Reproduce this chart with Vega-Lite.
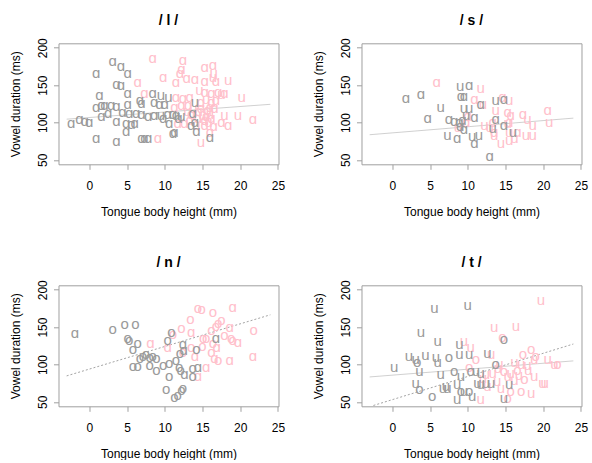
{
  "$schema": "https://vega.github.io/schema/vega-lite/v6.json",
  "padding": {"left": 8.5, "top": 12.3, "right": 0, "bottom": 0},
  "background": "white",
  "datasets": {
    "pts": [
      {"p":"l","c":"p","v":"ɑ","x":8.4,"y":185.7},{"p":"l","c":"p","v":"ɑ","x":12.4,"y":183.5},{"p":"l","c":"p","v":"ɑ","x":15.3,"y":173.7},{"p":"l","c":"p","v":"ɑ","x":16.4,"y":176.8},{"p":"l","c":"p","v":"ɑ","x":12.2,"y":171},{"p":"l","c":"p","v":"ɑ","x":12.0,"y":165.6},{"p":"l","c":"p","v":"ɑ","x":9.8,"y":161.2},{"p":"l","c":"p","v":"ɑ","x":11.5,"y":154.5},{"p":"l","c":"p","v":"ɑ","x":12.9,"y":158.9},{"p":"l","c":"p","v":"ɑ","x":14.0,"y":157.6},{"p":"l","c":"p","v":"ɑ","x":15.3,"y":155.8},{"p":"l","c":"p","v":"u","x":16.4,"y":161.2},{"p":"l","c":"p","v":"ɑ","x":16.8,"y":155.8},{"p":"l","c":"p","v":"u","x":18.4,"y":156.7},{"p":"l","c":"p","v":"ɑ","x":6.4,"y":154.5},{"p":"l","c":"p","v":"ɑ","x":7.3,"y":139.7},{"p":"l","c":"p","v":"ɑ","x":11.5,"y":134.4},{"p":"l","c":"p","v":"ɑ","x":12.4,"y":132.1},{"p":"l","c":"p","v":"ɑ","x":13.3,"y":134.4},{"p":"l","c":"p","v":"u","x":14.6,"y":143.3},{"p":"l","c":"p","v":"ɑ","x":15.3,"y":141},{"p":"l","c":"p","v":"ɑ","x":16.2,"y":138.8},{"p":"l","c":"p","v":"ɑ","x":17.1,"y":141},{"p":"l","c":"p","v":"ɑ","x":17.9,"y":138.8},{"p":"l","c":"p","v":"u","x":20.2,"y":134.4},{"p":"l","c":"p","v":"ɑ","x":16.2,"y":127.7},{"p":"l","c":"p","v":"ɑ","x":16.0,"y":121},{"p":"l","c":"p","v":"ɑ","x":11.3,"y":121},{"p":"l","c":"p","v":"ɑ","x":12.2,"y":123.2},{"p":"l","c":"p","v":"ɑ","x":13.1,"y":123.2},{"p":"l","c":"p","v":"ɑ","x":14.8,"y":118.8},{"p":"l","c":"p","v":"ɑ","x":15.7,"y":116.5},{"p":"l","c":"p","v":"ɑ","x":16.6,"y":118.8},{"p":"l","c":"p","v":"u","x":17.9,"y":109.8},{"p":"l","c":"p","v":"u","x":19.7,"y":109.8},{"p":"l","c":"p","v":"ɑ","x":21.7,"y":104},{"p":"l","c":"p","v":"ɑ","x":11.7,"y":98.7},{"p":"l","c":"p","v":"ɑ","x":12.6,"y":98.7},{"p":"l","c":"p","v":"ɑ","x":13.3,"y":103.1},{"p":"l","c":"p","v":"ɑ","x":14.4,"y":105.4},{"p":"l","c":"p","v":"ɑ","x":15.3,"y":103.1},{"p":"l","c":"p","v":"ɑ","x":16.2,"y":105.4},{"p":"l","c":"p","v":"ɑ","x":17.5,"y":100.9},{"p":"l","c":"p","v":"ɑ","x":18.4,"y":96.4},{"p":"l","c":"p","v":"ɑ","x":9.1,"y":79.5},{"p":"l","c":"p","v":"u","x":14.8,"y":74.1},{"p":"l","c":"p","v":"ɑ","x":16.0,"y":87.5},{"p":"l","c":"p","v":"ɑ","x":15.3,"y":96.4},{"p":"l","c":"p","v":"u","x":16.5,"y":166},{"p":"l","c":"p","v":"u","x":15.0,"y":110},{"p":"l","c":"p","v":"ɑ","x":15.5,"y":108},{"p":"l","c":"p","v":"u","x":16.0,"y":112},{"p":"l","c":"p","v":"ɑ","x":14.5,"y":115},{"p":"l","c":"p","v":"u","x":13.8,"y":120},{"p":"l","c":"p","v":"u","x":15.8,"y":100},{"p":"l","c":"p","v":"ɑ","x":16.5,"y":95},{"p":"l","c":"p","v":"u","x":14.2,"y":97},{"p":"l","c":"p","v":"ɑ","x":13.5,"y":112},{"p":"l","c":"p","v":"ɑ","x":14.8,"y":128},{"p":"l","c":"p","v":"u","x":15.5,"y":132},{"p":"l","c":"p","v":"u","x":13.0,"y":116},{"p":"l","c":"p","v":"ɑ","x":16.8,"y":130},{"p":"l","c":"p","v":"u","x":17.5,"y":138},
      {"p":"l","c":"g","v":"ɑ","x":3.1,"y":182.6},{"p":"l","c":"g","v":"ɑ","x":4.2,"y":175.4},{"p":"l","c":"g","v":"ɑ","x":5.1,"y":166.5},{"p":"l","c":"g","v":"ɑ","x":0.9,"y":166.5},{"p":"l","c":"g","v":"ɑ","x":3.6,"y":151.3},{"p":"l","c":"g","v":"ɑ","x":4.2,"y":150},{"p":"l","c":"g","v":"ɑ","x":5.1,"y":138.8},{"p":"l","c":"g","v":"ɑ","x":1.35,"y":136.6},{"p":"l","c":"g","v":"ɑ","x":0.9,"y":121},{"p":"l","c":"g","v":"ɑ","x":1.6,"y":123.2},{"p":"l","c":"g","v":"ɑ","x":2.0,"y":123.2},{"p":"l","c":"g","v":"ɑ","x":2.9,"y":123.2},{"p":"l","c":"g","v":"ɑ","x":3.6,"y":122.3},{"p":"l","c":"g","v":"ɑ","x":5.1,"y":124.1},{"p":"l","c":"g","v":"ɑ","x":6.7,"y":129.9},{"p":"l","c":"g","v":"ɑ","x":8.4,"y":138.8},{"p":"l","c":"g","v":"u","x":9.5,"y":136.6},{"p":"l","c":"g","v":"ɑ","x":8.6,"y":127.7},{"p":"l","c":"g","v":"ɑ","x":9.3,"y":125.4},{"p":"l","c":"g","v":"ɑ","x":10.0,"y":124.6},{"p":"l","c":"g","v":"ɑ","x":6.9,"y":126.3},{"p":"l","c":"g","v":"ɑ","x":-2.4,"y":98.7},{"p":"l","c":"g","v":"ɑ","x":-1.3,"y":104},{"p":"l","c":"g","v":"ɑ","x":-0.6,"y":102.2},{"p":"l","c":"g","v":"ɑ","x":0,"y":100.9},{"p":"l","c":"g","v":"ɑ","x":1.6,"y":108.5},{"p":"l","c":"g","v":"ɑ","x":2.5,"y":112.1},{"p":"l","c":"g","v":"ɑ","x":4.4,"y":114.3},{"p":"l","c":"g","v":"ɑ","x":5.3,"y":112.1},{"p":"l","c":"g","v":"ɑ","x":6.2,"y":112.1},{"p":"l","c":"g","v":"ɑ","x":6.9,"y":111.2},{"p":"l","c":"g","v":"ɑ","x":7.8,"y":108.5},{"p":"l","c":"g","v":"ɑ","x":8.6,"y":109.8},{"p":"l","c":"g","v":"u","x":9.5,"y":109.8},{"p":"l","c":"g","v":"ɑ","x":10.4,"y":110.7},{"p":"l","c":"g","v":"ɑ","x":11.1,"y":111.2},{"p":"l","c":"g","v":"ɑ","x":11.5,"y":109.8},{"p":"l","c":"g","v":"ɑ","x":3.6,"y":102.2},{"p":"l","c":"g","v":"ɑ","x":4.9,"y":98.7},{"p":"l","c":"g","v":"ɑ","x":5.6,"y":97.8},{"p":"l","c":"g","v":"ɑ","x":6.0,"y":98.7},{"p":"l","c":"g","v":"ɑ","x":4.9,"y":88.8},{"p":"l","c":"g","v":"ɑ","x":10.6,"y":98.7},{"p":"l","c":"g","v":"ɑ","x":11.3,"y":87.5},{"p":"l","c":"g","v":"ɑ","x":11.1,"y":85.3},{"p":"l","c":"g","v":"ɑ","x":6.9,"y":78.6},{"p":"l","c":"g","v":"ɑ","x":7.3,"y":78.6},{"p":"l","c":"g","v":"ɑ","x":7.8,"y":78.6},{"p":"l","c":"g","v":"ɑ","x":0.9,"y":78.6},{"p":"l","c":"g","v":"ɑ","x":3.6,"y":75.4},{"p":"l","c":"g","v":"u","x":14.0,"y":127.7},{"p":"l","c":"g","v":"ɑ","x":13.7,"y":112.1},{"p":"l","c":"g","v":"ɑ","x":14.0,"y":100.9},{"p":"l","c":"g","v":"ɑ","x":13.5,"y":96.4},{"p":"l","c":"g","v":"ɑ","x":14.2,"y":88.8},{"p":"l","c":"g","v":"ɑ","x":16.0,"y":80.8},{"p":"l","c":"g","v":"u","x":10.5,"y":134.6},{"p":"l","c":"g","v":"u","x":12.2,"y":108},{"p":"l","c":"g","v":"ɑ","x":9.8,"y":106},{"p":"l","c":"g","v":"ɑ","x":11.8,"y":106},

      {"p":"s","c":"p","v":"ɑ","x":5.9,"y":154.5},{"p":"s","c":"p","v":"u","x":11.7,"y":145.5},{"p":"s","c":"p","v":"ɑ","x":10.9,"y":132},{"p":"s","c":"p","v":"u","x":12.0,"y":125.4},{"p":"s","c":"p","v":"ɑ","x":14.6,"y":134.4},{"p":"s","c":"p","v":"u","x":15.5,"y":130},{"p":"s","c":"p","v":"u","x":13.7,"y":116.5},{"p":"s","c":"p","v":"ɑ","x":15.3,"y":114},{"p":"s","c":"p","v":"ɑ","x":15.7,"y":110},{"p":"s","c":"p","v":"ɑ","x":17.3,"y":112},{"p":"s","c":"p","v":"u","x":17.9,"y":105},{"p":"s","c":"p","v":"u","x":18.6,"y":96},{"p":"s","c":"p","v":"ɑ","x":20.6,"y":116.5},{"p":"s","c":"p","v":"u","x":20.8,"y":101},{"p":"s","c":"p","v":"ɑ","x":10.0,"y":108.5},{"p":"s","c":"p","v":"ɑ","x":9.8,"y":101},{"p":"s","c":"p","v":"u","x":8.7,"y":94},{"p":"s","c":"p","v":"u","x":12.2,"y":96},{"p":"s","c":"p","v":"u","x":12.9,"y":94},{"p":"s","c":"p","v":"ɑ","x":13.3,"y":101},{"p":"s","c":"p","v":"ɑ","x":13.5,"y":87.5},{"p":"s","c":"p","v":"u","x":13.5,"y":83},{"p":"s","c":"p","v":"u","x":15.3,"y":98.7},{"p":"s","c":"p","v":"u","x":15.5,"y":87.5},{"p":"s","c":"p","v":"ɑ","x":16.6,"y":87.5},{"p":"s","c":"p","v":"u","x":17.7,"y":83},{"p":"s","c":"p","v":"u","x":18.6,"y":83},{"p":"s","c":"p","v":"u","x":14.4,"y":71.9},{"p":"s","c":"p","v":"u","x":15.5,"y":76},{"p":"s","c":"p","v":"u","x":16.2,"y":78.6},{"p":"s","c":"p","v":"ɑ","x":15.5,"y":101},
      {"p":"s","c":"g","v":"ɑ","x":1.8,"y":132.1},{"p":"s","c":"g","v":"ɑ","x":3.8,"y":137.5},{"p":"s","c":"g","v":"u","x":6.4,"y":121},{"p":"s","c":"g","v":"ɑ","x":4.7,"y":105.4},{"p":"s","c":"g","v":"u","x":9.0,"y":148.7},{"p":"s","c":"g","v":"ɑ","x":10.2,"y":150},{"p":"s","c":"g","v":"ɑ","x":9.1,"y":135.3},{"p":"s","c":"g","v":"ɑ","x":9.5,"y":135.3},{"p":"s","c":"g","v":"u","x":9.5,"y":119.6},{"p":"s","c":"g","v":"u","x":10.2,"y":119.6},{"p":"s","c":"g","v":"ɑ","x":7.5,"y":105},{"p":"s","c":"g","v":"ɑ","x":8.2,"y":102},{"p":"s","c":"g","v":"ɑ","x":8.9,"y":101},{"p":"s","c":"g","v":"ɑ","x":9.3,"y":103},{"p":"s","c":"g","v":"ɑ","x":10.9,"y":107.6},{"p":"s","c":"g","v":"ɑ","x":9.5,"y":90.6},{"p":"s","c":"g","v":"u","x":7.3,"y":83},{"p":"s","c":"g","v":"ɑ","x":8.6,"y":78.6},{"p":"s","c":"g","v":"u","x":10.6,"y":81.7},{"p":"s","c":"g","v":"ɑ","x":10.9,"y":71.9},{"p":"s","c":"g","v":"u","x":11.5,"y":83},{"p":"s","c":"g","v":"ɑ","x":11.7,"y":125.4},{"p":"s","c":"g","v":"u","x":13.7,"y":130},{"p":"s","c":"g","v":"ɑ","x":14.8,"y":132},{"p":"s","c":"g","v":"ɑ","x":13.7,"y":105},{"p":"s","c":"g","v":"ɑ","x":14.8,"y":96},{"p":"s","c":"g","v":"u","x":16.0,"y":87.5},{"p":"s","c":"g","v":"ɑ","x":12.9,"y":55},{"p":"s","c":"g","v":"u","x":13.3,"y":92},{"p":"s","c":"g","v":"u","x":9.8,"y":110},{"p":"s","c":"g","v":"ɑ","x":9.0,"y":95},

      {"p":"n","c":"p","v":"o","x":14.4,"y":175},{"p":"n","c":"p","v":"o","x":14.9,"y":174},{"p":"n","c":"p","v":"o","x":16.4,"y":170},{"p":"n","c":"p","v":"ɑ","x":19.0,"y":177},{"p":"n","c":"p","v":"o","x":13.4,"y":161},{"p":"n","c":"p","v":"o","x":17.5,"y":159},{"p":"n","c":"p","v":"o","x":17.1,"y":155},{"p":"n","c":"p","v":"o","x":16.8,"y":151},{"p":"n","c":"p","v":"o","x":12.2,"y":148.5},{"p":"n","c":"p","v":"o","x":11.1,"y":140.5},{"p":"n","c":"p","v":"ɑ","x":13.5,"y":144},{"p":"n","c":"p","v":"o","x":16.2,"y":146},{"p":"n","c":"p","v":"ɑ","x":18.6,"y":150.7},{"p":"n","c":"p","v":"o","x":21.8,"y":146},{"p":"n","c":"p","v":"o","x":15.1,"y":135},{"p":"n","c":"p","v":"o","x":15.5,"y":135},{"p":"n","c":"p","v":"o","x":16.4,"y":128.5},{"p":"n","c":"p","v":"o","x":17.9,"y":139.6},{"p":"n","c":"p","v":"o","x":18.8,"y":135},{"p":"n","c":"p","v":"o","x":19.0,"y":133},{"p":"n","c":"p","v":"ɑ","x":19.7,"y":130.7},{"p":"n","c":"p","v":"ɑ","x":10.4,"y":124},{"p":"n","c":"p","v":"o","x":13.5,"y":124},{"p":"n","c":"p","v":"ɑ","x":14.0,"y":110.7},{"p":"n","c":"p","v":"ɑ","x":15.5,"y":96},{"p":"n","c":"p","v":"o","x":16.2,"y":117},{"p":"n","c":"p","v":"ɑ","x":16.6,"y":108},{"p":"n","c":"p","v":"o","x":17.1,"y":106},{"p":"n","c":"p","v":"ɑ","x":14.4,"y":84},{"p":"n","c":"p","v":"ɑ","x":18.6,"y":106},{"p":"n","c":"p","v":"ɑ","x":21.7,"y":110.7},{"p":"n","c":"p","v":"o","x":12.4,"y":117},{"p":"n","c":"p","v":"ɑ","x":8.1,"y":129},{"p":"n","c":"p","v":"o","x":15.0,"y":125},{"p":"n","c":"p","v":"ɑ","x":16.9,"y":124},
      {"p":"n","c":"g","v":"ɑ","x":-1.9,"y":141.8},{"p":"n","c":"g","v":"o","x":3.1,"y":147.6},{"p":"n","c":"g","v":"o","x":4.7,"y":153.8},{"p":"n","c":"g","v":"o","x":6.1,"y":154.3},{"p":"n","c":"g","v":"o","x":5.1,"y":136},{"p":"n","c":"g","v":"o","x":5.3,"y":133},{"p":"n","c":"g","v":"o","x":6.4,"y":128.5},{"p":"n","c":"g","v":"o","x":5.8,"y":121},{"p":"n","c":"g","v":"o","x":7.1,"y":112},{"p":"n","c":"g","v":"o","x":7.5,"y":114},{"p":"n","c":"g","v":"o","x":6.7,"y":109},{"p":"n","c":"g","v":"o","x":8.0,"y":110},{"p":"n","c":"g","v":"o","x":8.4,"y":112},{"p":"n","c":"g","v":"o","x":8.9,"y":108},{"p":"n","c":"g","v":"o","x":5.8,"y":98},{"p":"n","c":"g","v":"o","x":6.4,"y":98},{"p":"n","c":"g","v":"o","x":8.0,"y":99.5},{"p":"n","c":"g","v":"o","x":8.9,"y":93},{"p":"n","c":"g","v":"o","x":9.8,"y":99.5},{"p":"n","c":"g","v":"o","x":10.6,"y":102},{"p":"n","c":"g","v":"o","x":10.9,"y":144},{"p":"n","c":"g","v":"o","x":10.4,"y":133},{"p":"n","c":"g","v":"ɑ","x":12.4,"y":127},{"p":"n","c":"g","v":"o","x":12.0,"y":115},{"p":"n","c":"g","v":"o","x":11.5,"y":106},{"p":"n","c":"g","v":"o","x":11.9,"y":97},{"p":"n","c":"g","v":"o","x":12.1,"y":92},{"p":"n","c":"g","v":"ɑ","x":12.6,"y":87},{"p":"n","c":"g","v":"o","x":10.6,"y":84},{"p":"n","c":"g","v":"o","x":10.2,"y":67.5},{"p":"n","c":"g","v":"o","x":11.3,"y":57},{"p":"n","c":"g","v":"o","x":11.7,"y":59.5},{"p":"n","c":"g","v":"o","x":12.2,"y":66},{"p":"n","c":"g","v":"o","x":12.4,"y":68},{"p":"n","c":"g","v":"o","x":13.7,"y":95},{"p":"n","c":"g","v":"o","x":13.7,"y":84},{"p":"n","c":"g","v":"ɑ","x":14.4,"y":97},{"p":"n","c":"g","v":"o","x":14.2,"y":121},{"p":"n","c":"g","v":"ɑ","x":16.8,"y":135},{"p":"n","c":"g","v":"ɑ","x":12.5,"y":119},

      {"p":"t","c":"p","v":"u","x":19.7,"y":186.5},{"p":"t","c":"p","v":"u","x":16.4,"y":152},{"p":"t","c":"p","v":"u","x":13.5,"y":150.7},{"p":"t","c":"p","v":"o","x":14.6,"y":137},{"p":"t","c":"p","v":"u","x":9.5,"y":131.8},{"p":"t","c":"p","v":"u","x":10.4,"y":122.9},{"p":"t","c":"p","v":"o","x":11.1,"y":107},{"p":"t","c":"p","v":"o","x":10.2,"y":96},{"p":"t","c":"p","v":"u","x":13.1,"y":114},{"p":"t","c":"p","v":"o","x":18.4,"y":120.6},{"p":"t","c":"p","v":"o","x":17.3,"y":114},{"p":"t","c":"p","v":"u","x":18.8,"y":107},{"p":"t","c":"p","v":"u","x":20.6,"y":107},{"p":"t","c":"p","v":"o","x":21.9,"y":100.4},{"p":"t","c":"p","v":"u","x":16.2,"y":103},{"p":"t","c":"p","v":"u","x":17.1,"y":101},{"p":"t","c":"p","v":"u","x":17.9,"y":99},{"p":"t","c":"p","v":"o","x":16.6,"y":93},{"p":"t","c":"p","v":"u","x":15.7,"y":89},{"p":"t","c":"p","v":"u","x":14.2,"y":100.4},{"p":"t","c":"p","v":"o","x":14.8,"y":91.5},{"p":"t","c":"p","v":"u","x":15.3,"y":84.8},{"p":"t","c":"p","v":"u","x":13.9,"y":78},{"p":"t","c":"p","v":"u","x":12.6,"y":71},{"p":"t","c":"p","v":"u","x":14.4,"y":69},{"p":"t","c":"p","v":"o","x":15.7,"y":64.6},{"p":"t","c":"p","v":"o","x":17.1,"y":64.6},{"p":"t","c":"p","v":"u","x":18.4,"y":62},{"p":"t","c":"p","v":"u","x":20.2,"y":75.8},{"p":"t","c":"p","v":"u","x":11.7,"y":53.4},{"p":"t","c":"p","v":"o","x":15.3,"y":55.6},{"p":"t","c":"p","v":"u","x":18.8,"y":84.8},{"p":"t","c":"p","v":"u","x":19.9,"y":75.8},{"p":"t","c":"p","v":"u","x":12.4,"y":87},{"p":"t","c":"p","v":"u","x":13.3,"y":89},{"p":"t","c":"p","v":"u","x":16.2,"y":79},{"p":"t","c":"p","v":"o","x":17.5,"y":80},{"p":"t","c":"p","v":"u","x":16.8,"y":86},{"p":"t","c":"p","v":"u","x":18.0,"y":92},{"p":"t","c":"p","v":"u","x":14.0,"y":95},{"p":"t","c":"p","v":"u","x":21.5,"y":101},{"p":"t","c":"p","v":"u","x":12.0,"y":82},{"p":"t","c":"p","v":"o","x":19.0,"y":112},
      {"p":"t","c":"g","v":"u","x":5.6,"y":175.8},{"p":"t","c":"g","v":"u","x":10.0,"y":179},{"p":"t","c":"g","v":"u","x":3.8,"y":143},{"p":"t","c":"g","v":"u","x":6.0,"y":131},{"p":"t","c":"g","v":"u","x":8.9,"y":127},{"p":"t","c":"g","v":"o","x":14.8,"y":134},{"p":"t","c":"g","v":"u","x":0.25,"y":97},{"p":"t","c":"g","v":"u","x":2.2,"y":111.7},{"p":"t","c":"g","v":"u","x":3.1,"y":107},{"p":"t","c":"g","v":"u","x":4.4,"y":113},{"p":"t","c":"g","v":"u","x":5.8,"y":109.4},{"p":"t","c":"g","v":"u","x":6.0,"y":102.7},{"p":"t","c":"g","v":"o","x":3.3,"y":102.7},{"p":"t","c":"g","v":"u","x":3.6,"y":91.5},{"p":"t","c":"g","v":"o","x":7.5,"y":109.4},{"p":"t","c":"g","v":"u","x":8.9,"y":114},{"p":"t","c":"g","v":"u","x":10.2,"y":114},{"p":"t","c":"g","v":"u","x":12.6,"y":116},{"p":"t","c":"g","v":"u","x":6.4,"y":87},{"p":"t","c":"g","v":"o","x":8.2,"y":90.6},{"p":"t","c":"g","v":"u","x":9.1,"y":84.8},{"p":"t","c":"g","v":"o","x":10.4,"y":91.5},{"p":"t","c":"g","v":"u","x":11.1,"y":91.5},{"p":"t","c":"g","v":"u","x":11.7,"y":89},{"p":"t","c":"g","v":"u","x":3.1,"y":75.8},{"p":"t","c":"g","v":"o","x":3.6,"y":66.8},{"p":"t","c":"g","v":"o","x":5.3,"y":57.8},{"p":"t","c":"g","v":"u","x":6.7,"y":69},{"p":"t","c":"g","v":"u","x":7.1,"y":71},{"p":"t","c":"g","v":"u","x":7.3,"y":69},{"p":"t","c":"g","v":"u","x":8.6,"y":73.5},{"p":"t","c":"g","v":"o","x":9.1,"y":64.6},{"p":"t","c":"g","v":"u","x":9.5,"y":64.6},{"p":"t","c":"g","v":"o","x":10.2,"y":64.6},{"p":"t","c":"g","v":"u","x":8.6,"y":53.4},{"p":"t","c":"g","v":"u","x":10.6,"y":57.8},{"p":"t","c":"g","v":"u","x":11.3,"y":75.8},{"p":"t","c":"g","v":"u","x":11.7,"y":73.5},{"p":"t","c":"g","v":"u","x":12.4,"y":75.8},{"p":"t","c":"g","v":"u","x":13.1,"y":75.8},{"p":"t","c":"g","v":"o","x":13.7,"y":100.4},{"p":"t","c":"g","v":"u","x":15.5,"y":73.5},{"p":"t","c":"g","v":"u","x":14.8,"y":55.6}
    ],
    "lines": [
      {"p":"l","s":"solid","x":-3,"y":104.4},{"p":"l","s":"solid","x":24,"y":124.3},
      {"p":"s","s":"solid","x":-3,"y":83.6},{"p":"s","s":"solid","x":24,"y":105.8},
      {"p":"n","s":"dotted","x":-3,"y":84.7},{"p":"n","s":"dotted","x":24,"y":166.5},
      {"p":"t","s":"solid","x":-3,"y":83.3},{"p":"t","s":"solid","x":24,"y":104.8},
      {"p":"t","s":"dotted","x":-2.5,"y":45.1},{"p":"t","s":"dotted","x":24,"y":127.4}
    ]
  },
  "columns": 2,
  "spacing": {"row": 121, "column": 83},
  "bounds": "flush",
  "concat": [
    {
      "title": {"text": "/ l /"},
      "width": 220, "height": 121,
      "encoding": {
        "x": {"field": "x", "type": "quantitative", "scale": {"domain": [-4.08, 25.08], "nice": false, "zero": false}, "axis": {"title": "Tongue body height (mm)", "values": [0, 5, 10, 15, 20, 25]}},
        "y": {"field": "y", "type": "quantitative", "scale": {"domain": [44, 206], "nice": false, "zero": false}, "axis": {"title": "Vowel duration (ms)", "values": [50, 100, 150, 200]}}
      },
      "layer": [
        {"data": {"name": "lines"}, "transform": [{"filter": "datum.p == 'l' && datum.s == 'solid'"}], "mark": {"type": "line", "color": "#c4c4c4", "strokeWidth": 0.8, "clip": true}},
        {"data": {"name": "pts"}, "transform": [{"filter": "datum.p == 'l'"}], "mark": {"type": "text", "fontSize": 15, "font": "Liberation Sans, DejaVu Sans", "baseline": "middle", "align": "center"}, "encoding": {"text": {"field": "v"}, "color": {"field": "c", "type": "nominal", "scale": {"domain": ["g", "p"], "range": ["#9a9a9a", "#ffc0cb"]}, "legend": null}}}
      ]
    },
    {
      "title": {"text": "/ s /"},
      "width": 220, "height": 121,
      "encoding": {
        "x": {"field": "x", "type": "quantitative", "scale": {"domain": [-4.08, 25.08], "nice": false, "zero": false}, "axis": {"title": "Tongue body height (mm)", "values": [0, 5, 10, 15, 20, 25]}},
        "y": {"field": "y", "type": "quantitative", "scale": {"domain": [44, 206], "nice": false, "zero": false}, "axis": {"title": "Vowel duration (ms)", "values": [50, 100, 150, 200]}}
      },
      "layer": [
        {"data": {"name": "lines"}, "transform": [{"filter": "datum.p == 's' && datum.s == 'solid'"}], "mark": {"type": "line", "color": "#c4c4c4", "strokeWidth": 0.8, "clip": true}},
        {"data": {"name": "pts"}, "transform": [{"filter": "datum.p == 's'"}], "mark": {"type": "text", "fontSize": 15, "font": "Liberation Sans, DejaVu Sans", "baseline": "middle", "align": "center"}, "encoding": {"text": {"field": "v"}, "color": {"field": "c", "type": "nominal", "scale": {"domain": ["g", "p"], "range": ["#9a9a9a", "#ffc0cb"]}, "legend": null}}}
      ]
    },
    {
      "title": {"text": "/ n /"},
      "width": 220, "height": 121,
      "encoding": {
        "x": {"field": "x", "type": "quantitative", "scale": {"domain": [-4.08, 25.08], "nice": false, "zero": false}, "axis": {"title": "Tongue body height (mm)", "values": [0, 5, 10, 15, 20, 25]}},
        "y": {"field": "y", "type": "quantitative", "scale": {"domain": [44, 206], "nice": false, "zero": false}, "axis": {"title": "Vowel duration (ms)", "values": [50, 100, 150, 200]}}
      },
      "layer": [
        {"data": {"name": "lines"}, "transform": [{"filter": "datum.p == 'n' && datum.s == 'dotted'"}], "mark": {"type": "line", "color": "#8c8c8c", "strokeWidth": 0.8, "strokeDash": [2, 2], "clip": true}},
        {"data": {"name": "pts"}, "transform": [{"filter": "datum.p == 'n'"}], "mark": {"type": "text", "fontSize": 15, "font": "Liberation Sans, DejaVu Sans", "baseline": "middle", "align": "center"}, "encoding": {"text": {"field": "v"}, "color": {"field": "c", "type": "nominal", "scale": {"domain": ["g", "p"], "range": ["#9a9a9a", "#ffc0cb"]}, "legend": null}}}
      ]
    },
    {
      "title": {"text": "/ t /"},
      "width": 220, "height": 121,
      "encoding": {
        "x": {"field": "x", "type": "quantitative", "scale": {"domain": [-4.08, 25.08], "nice": false, "zero": false}, "axis": {"title": "Tongue body height (mm)", "values": [0, 5, 10, 15, 20, 25]}},
        "y": {"field": "y", "type": "quantitative", "scale": {"domain": [44, 206], "nice": false, "zero": false}, "axis": {"title": "Vowel duration (ms)", "values": [50, 100, 150, 200]}}
      },
      "layer": [
        {"data": {"name": "lines"}, "transform": [{"filter": "datum.p == 't' && datum.s == 'solid'"}], "mark": {"type": "line", "color": "#c4c4c4", "strokeWidth": 0.8, "clip": true}},
        {"data": {"name": "lines"}, "transform": [{"filter": "datum.p == 't' && datum.s == 'dotted'"}], "mark": {"type": "line", "color": "#8c8c8c", "strokeWidth": 0.8, "strokeDash": [2, 2], "clip": true}},
        {"data": {"name": "pts"}, "transform": [{"filter": "datum.p == 't'"}], "mark": {"type": "text", "fontSize": 15, "font": "Liberation Sans, DejaVu Sans", "baseline": "middle", "align": "center"}, "encoding": {"text": {"field": "v"}, "color": {"field": "c", "type": "nominal", "scale": {"domain": ["g", "p"], "range": ["#9a9a9a", "#ffc0cb"]}, "legend": null}}}
      ]
    }
  ],
  "resolve": {"scale": {"x": "independent", "y": "independent"}},
  "config": {
    "font": "Liberation Sans",
    "view": {"stroke": "#a0a0a0", "strokeWidth": 1},
    "title": {"fontSize": 14, "fontWeight": "bold", "font": "Liberation Sans", "anchor": "middle", "baseline": "alphabetic", "offset": 10, "color": "black"},
    "axisX": {"labelPadding": 11, "titlePadding": 15},
    "axisY": {"labelAngle": -90, "labelPadding": 4, "titlePadding": 14},
    "axis": {"domain": false, "grid": false, "tickSize": 5, "tickColor": "#a0a0a0", "labelFontSize": 12, "titleFontSize": 12, "titleFontWeight": "normal", "labelColor": "black", "titleColor": "black", "labelFont": "Liberation Sans", "titleFont": "Liberation Sans", "labelFlush": false, "labelOverlap": false}
  }
}
